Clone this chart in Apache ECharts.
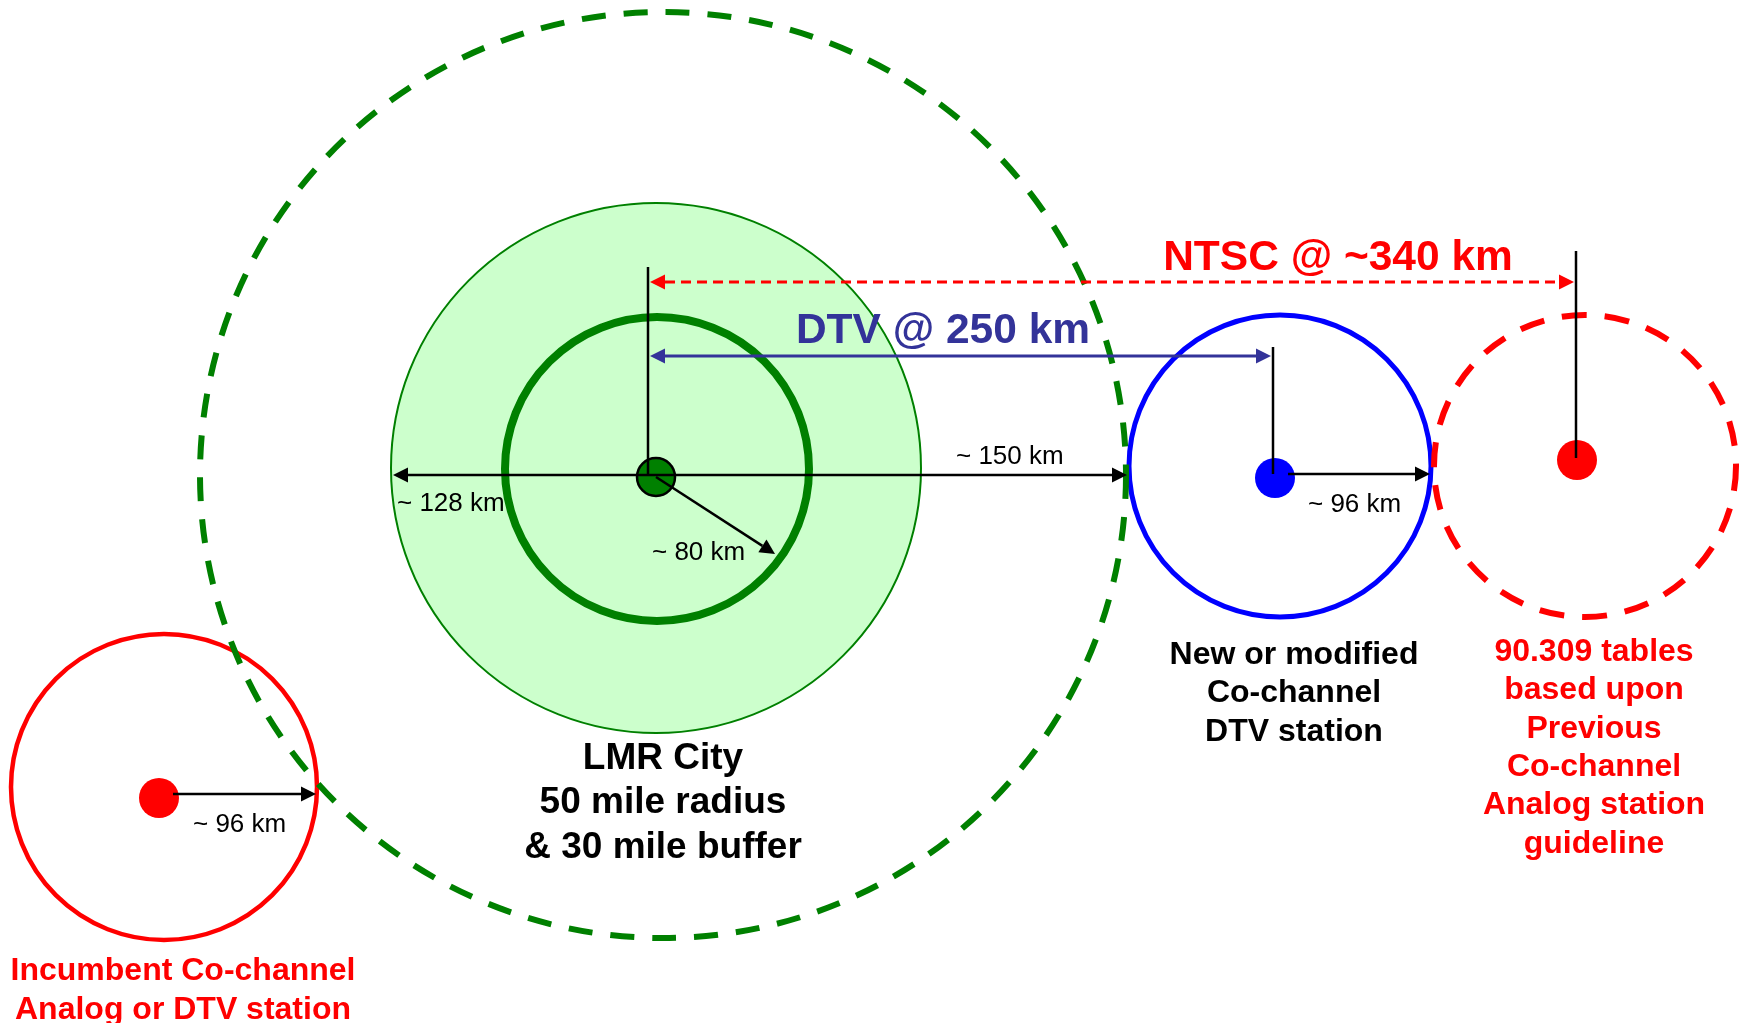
<!DOCTYPE html>
<html>
<head>
<meta charset="utf-8">
<script src="https://cdn.jsdelivr.net/npm/echarts@6/dist/echarts.min.js"></script>
<style>
html,body{margin:0;padding:0;background:#fff;}
#chart{width:1742px;height:1023px;}
</style>
</head>
<body>
<div id="chart"></div>
<script>
// ---- Diagram data (diagram units on hidden axes) ----
const zoneNames = ['Protection buffer (80 mi)', 'LMR radius (50 mi)', 'Co-channel separation ring', 'New DTV contour', 'Previous analog guideline', 'Incumbent contour'];
const zoneX = [656, 657, 663, 1280, 1585, 164];
const zoneY = [468, 469, 475, 466, 466, 787];
const zoneR = [265, 152, 463, 151, 151, 153];

const stationNames = ['LMR City', 'New DTV station', 'Previous analog station', 'Incumbent station'];
const stationX = [656, 1275, 1577, 159];
const stationY = [477, 478, 460, 798];

const radialLabels = ['~ 128 km', '~ 80 km', '~ 150 km', '~ 96 km', '~ 96 km'];
const radialStart = [[656, 475], [656, 477], [656, 475], [1288, 474], [173, 794]];
const radialEnd = [[393, 475], [775, 554], [1127, 475], [1430, 474], [316, 794]];
const radialLabelPos = [[397, 503.5], [652, 552.5], [956, 456.5], [1308, 504.5], [193, 824.5]];

const separationLabels = ['NTSC @ ~340 km', 'DTV @ 250 km'];
const separationKm = [340, 250];
const separationY = [282, 356];
const separationFromX = [650, 650];
const separationToX = [1574, 1271];
const separationLabelPos = [[1338, 258], [943, 331.5]];

const leaderX = [648, 1273, 1576];
const leaderTop = [267, 347, 251];
const leaderBottom = [476, 474, 458];

const blockLabels = [
  'LMR City\n50 mile radius\n& 30 mile buffer',
  'New or modified\nCo-channel\nDTV station',
  '90.309 tables\nbased upon\nPrevious\nCo-channel\nAnalog station\nguideline',
  'Incumbent Co-channel\nAnalog or DTV station'
];
const blockPos = [[663, 803], [1294, 693.5], [1594, 748], [183, 990.5]];

// ---- Rendering helpers ----
const FONT = 'Arial, "Liberation Sans", sans-serif';

function zoneSeries(idx, style) {
  return {
    type: 'custom', coordinateSystem: 'cartesian2d', clip: false, silent: true,
    data: [[zoneX[idx], zoneY[idx], zoneR[idx]]],
    name: zoneNames[idx],
    renderItem: function (params, api) {
      const c = api.coord([api.value(0), api.value(1)]);
      const r = api.size([api.value(2), 0])[0];
      return { type: 'circle', shape: { cx: c[0], cy: c[1], r: r }, style: style };
    }
  };
}

function arrowGroup(p0, p1, color, width, dash, headStart, headEnd) {
  const dx = p1[0] - p0[0], dy = p1[1] - p0[1];
  const len = Math.hypot(dx, dy) || 1;
  const ux = dx / len, uy = dy / len;
  const L = 15, W = 7.5;
  let a = p0.slice(), b = p1.slice();
  const children = [];
  if (headEnd) {
    b = [p1[0] - ux * L, p1[1] - uy * L];
    children.push({ type: 'polygon', shape: { points: [p1, [b[0] - uy * W, b[1] + ux * W], [b[0] + uy * W, b[1] - ux * W]] }, style: { fill: color } });
  }
  if (headStart) {
    a = [p0[0] + ux * L, p0[1] + uy * L];
    children.push({ type: 'polygon', shape: { points: [p0, [a[0] - uy * W, a[1] + ux * W], [a[0] + uy * W, a[1] - ux * W]] }, style: { fill: color } });
  }
  children.unshift({ type: 'line', shape: { x1: a[0], y1: a[1], x2: b[0], y2: b[1] }, style: { stroke: color, lineWidth: width, lineDash: dash || null } });
  return { type: 'group', children: children };
}

function textEl(x, y, text, size, weight, color, align, lineHeight) {
  return {
    type: 'text', x: x, y: y,
    style: {
      text: text, fill: color,
      fontSize: size, fontWeight: weight, fontFamily: FONT,
      align: align, verticalAlign: 'middle',
      textAlign: align, textVerticalAlign: 'middle',
      lineHeight: lineHeight || size * 1.2
    }
  };
}

const series = [];
// Circles (order matters for overlap)
series.push(zoneSeries(0, { fill: '#ccffcc', stroke: '#008000', lineWidth: 2 }));
series.push(zoneSeries(1, { fill: null, stroke: '#008000', lineWidth: 8 }));
series.push(zoneSeries(3, { fill: null, stroke: '#0000ff', lineWidth: 5 }));
series.push(zoneSeries(4, { fill: null, stroke: '#ff0000', lineWidth: 6, lineDash: [25, 18] }));
series.push(zoneSeries(5, { fill: null, stroke: '#ff0000', lineWidth: 4.5 }));
series.push(zoneSeries(2, { fill: null, stroke: '#008000', lineWidth: 6, lineDash: [24, 18] }));

// Station dots
const dotFill = ['#008000', '#0000ff', '#ff0000', '#ff0000'];
series.push({
  type: 'custom', coordinateSystem: 'cartesian2d', clip: false, silent: true,
  data: stationX.map((x, i) => [x, stationY[i]]),
  renderItem: function (params, api) {
    const c = api.coord([api.value(0), api.value(1)]);
    const i = params.dataIndex;
    const r = api.size([20, 0])[0];
    return {
      type: 'circle', shape: { cx: c[0], cy: c[1], r: i === 0 ? r - 1 : r },
      style: { fill: dotFill[i], stroke: i === 0 ? '#000' : null, lineWidth: i === 0 ? 2.5 : 0 }
    };
  }
});

// Leader (vertical) lines
series.push({
  type: 'custom', coordinateSystem: 'cartesian2d', clip: false, silent: true,
  data: leaderX.map((x, i) => [x, leaderTop[i], leaderBottom[i]]),
  renderItem: function (params, api) {
    const t = api.coord([api.value(0), api.value(1)]);
    const b = api.coord([api.value(0), api.value(2)]);
    return { type: 'line', shape: { x1: t[0], y1: t[1], x2: b[0], y2: b[1] }, style: { stroke: '#000', lineWidth: 2.5 } };
  }
});

// Radial distance arrows
series.push({
  type: 'custom', coordinateSystem: 'cartesian2d', clip: false, silent: true,
  data: radialStart.map((s, i) => [s[0], s[1], radialEnd[i][0], radialEnd[i][1]]),
  renderItem: function (params, api) {
    const p0 = api.coord([api.value(0), api.value(1)]);
    const p1 = api.coord([api.value(2), api.value(3)]);
    return arrowGroup(p0, p1, '#000', 2.5, null, false, true);
  }
});

// Separation dimension arrows
const sepColor = ['#ff0000', '#333399'];
const sepDash = [[10, 6], null];
series.push({
  type: 'custom', coordinateSystem: 'cartesian2d', clip: false, silent: true,
  data: separationY.map((y, i) => [separationFromX[i], y, separationToX[i], separationKm[i]]),
  renderItem: function (params, api) {
    const i = params.dataIndex;
    const p0 = api.coord([api.value(0), api.value(1)]);
    const p1 = api.coord([api.value(2), api.value(1)]);
    return arrowGroup(p0, p1, sepColor[i], 3, sepDash[i], true, true);
  }
});

// Radial labels
series.push({
  type: 'custom', coordinateSystem: 'cartesian2d', clip: false, silent: true,
  data: radialLabelPos.map(p => [p[0], p[1]]),
  renderItem: function (params, api) {
    const c = api.coord([api.value(0), api.value(1)]);
    return textEl(c[0], c[1], radialLabels[params.dataIndex], 26, 'normal', '#000', 'left');
  }
});

// Separation labels
series.push({
  type: 'custom', coordinateSystem: 'cartesian2d', clip: false, silent: true,
  data: separationLabelPos.map(p => [p[0], p[1]]),
  renderItem: function (params, api) {
    const c = api.coord([api.value(0), api.value(1)]);
    const i = params.dataIndex;
    return textEl(c[0], c[1], separationLabels[i], 42.5, 'bold', sepColor[i], 'center');
  }
});

// Block labels
const blockColor = ['#000', '#000', '#ff0000', '#ff0000'];
const blockSize = [37, 32, 32, 32];
const blockLH = [44.5, 38.5, 38.4, 38.5];
series.push({
  type: 'custom', coordinateSystem: 'cartesian2d', clip: false, silent: true,
  data: blockPos.map(p => [p[0], p[1]]),
  renderItem: function (params, api) {
    const c = api.coord([api.value(0), api.value(1)]);
    const i = params.dataIndex;
    return textEl(c[0], c[1], blockLabels[i], blockSize[i], 'bold', blockColor[i], 'center', blockLH[i]);
  }
});

const chart = echarts.init(document.getElementById('chart'), null, { renderer: 'canvas' });
chart.setOption({
  animation: false,
  backgroundColor: '#ffffff',
  grid: { left: 0, right: 0, top: 0, bottom: 0, containLabel: false },
  xAxis: { type: 'value', min: 0, max: 1742, show: false },
  yAxis: { type: 'value', min: 0, max: 1023, inverse: true, show: false },
  series: series
});
</script>
</body>
</html>
